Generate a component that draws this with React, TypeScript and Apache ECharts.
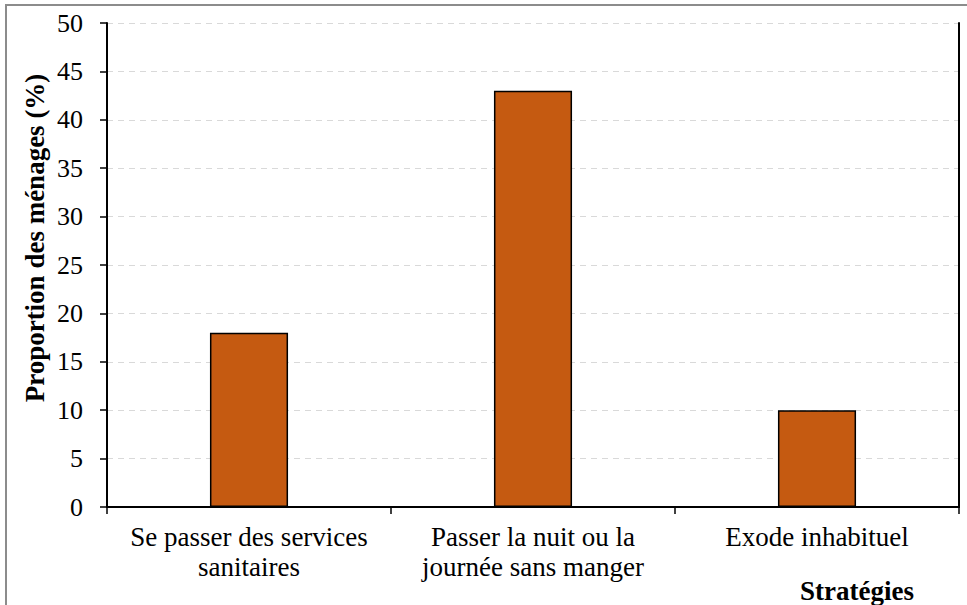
import React, { useEffect, useRef } from "react";
import * as echarts from "echarts";

const categories = ["Se passer des services\nsanitaires", "Passer la nuit ou la\njournée sans manger", "Exode inhabituel"];
const values = [18, 43, 10];
const yTitle = "Proportion des ménages (%)";
const xTitle = "Stratégies";

export default function App() {
  const ref = useRef<HTMLDivElement>(null);
  useEffect(() => {
    const chart = echarts.init(ref.current!, null, { renderer: "svg" });
    const font = "'Liberation Serif', 'Times New Roman', serif";
    chart.setOption({
      animation: false,
      backgroundColor: "#fff",
      textStyle: { fontFamily: font },
      grid: { left: 107, top: 23, right: 8, bottom: 98 },
      xAxis: [
        {
          type: "category",
          data: categories,
          axisLine: { lineStyle: { color: "#000", width: 2 } },
          axisTick: { show: true, length: 7, lineStyle: { color: "#000", width: 1.5 } },
          axisLabel: { color: "#000", fontSize: 27, fontFamily: font, lineHeight: 30, margin: 15, interval: 0 },
        },
        {
          type: "category",
          position: "top",
          data: categories,
          axisLine: { show: true, lineStyle: { color: "#000", width: 2 } },
          axisTick: { show: false },
          axisLabel: { show: false },
        },
      ],
      yAxis: [
        {
          type: "value",
          min: 0, max: 50, interval: 5,
          axisLine: { show: true, lineStyle: { color: "#000", width: 2 } },
          axisTick: { show: true, length: 7, lineStyle: { color: "#000", width: 1.5 } },
          axisLabel: { color: "#000", fontSize: 26, fontFamily: font, margin: 24 },
          splitLine: { show: true, lineStyle: { color: "#d9d9d9", type: [6, 5], width: 1 } },
        },
        {
          type: "value",
          position: "right",
          min: 0, max: 50, interval: 5,
          axisLine: { show: true, lineStyle: { color: "#000", width: 2 } },
          axisTick: { show: false },
          axisLabel: { show: false },
          splitLine: { show: false },
        },
      ],
      series: [
        {
          type: "bar",
          data: values,
          barWidth: "27.5%",
          itemStyle: { color: "#C55A11", borderColor: "#000", borderWidth: 1.5 },
        },
      ],
      graphic: [
        {
          type: "rect",
          shape: { x: 6, y: 5, width: 970, height: 620 },
          style: { fill: "none", stroke: "#8c8c8c", lineWidth: 2 },
          silent: true,
        },
        {
          type: "text",
          x: 35, y: 238, rotation: Math.PI / 2,
          style: { text: yTitle, font: `bold 27px ${font}`, fill: "#000", textAlign: "center", textVerticalAlign: "middle" },
        },
        {
          type: "text",
          x: 857, y: 591,
          style: { text: xTitle, font: `bold 27px ${font}`, fill: "#000", textAlign: "center", textVerticalAlign: "middle" },
        },
      ],
    });
    return () => chart.dispose();
  }, []);
  return <div ref={ref} style={{ width: 967, height: 605, position: "fixed", left: 0, top: 0 }} />;
}
